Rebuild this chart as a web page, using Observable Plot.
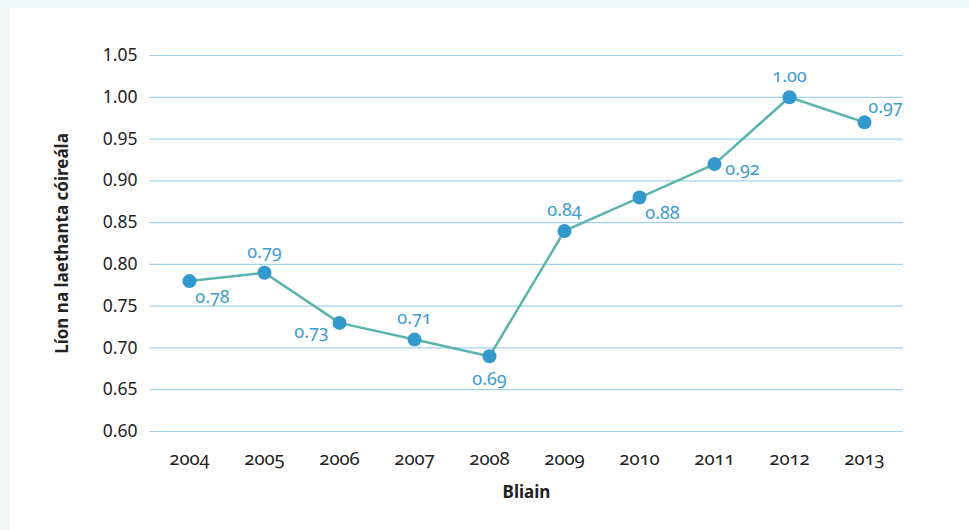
<!DOCTYPE html>
<html>
<head>
<meta charset="utf-8">
<script src="https://cdn.jsdelivr.net/npm/d3@7"></script>
<script src="https://cdn.jsdelivr.net/npm/@observablehq/plot@0.6"></script>
<style>
  html, body { margin: 0; padding: 0; }
  body { width: 969px; height: 530px; background: #eef7f5; overflow: hidden; }
  #wrap { position: absolute; left: 10px; top: 8px; width: 959px; height: 522px; background: #fff; }
  svg { font-family: "Noto Sans", sans-serif; font-variant-numeric: oldstyle-nums; }
</style>
</head>
<body>
<div id="wrap"></div>
<script>
const years = ["2004","2005","2006","2007","2008","2009","2010","2011","2012","2013"];
const values = [0.78, 0.79, 0.73, 0.71, 0.69, 0.84, 0.88, 0.92, 1.00, 0.97];
const yTicks = [0.60, 0.65, 0.70, 0.75, 0.80, 0.85, 0.90, 0.95, 1.00, 1.05];

const data = years.map((y, i) => ({year: y, value: values[i]}));
const labelColor = "#3b9bd2";

const above = new Set(["2005","2007","2009","2012"]);
const below = new Set(["2008"]);
const belowRight = new Set(["2004","2010"]);
const right = new Set(["2011"]);
const belowLeft = new Set(["2006"]);
const aboveRight = new Set(["2013"]);

const txt = (set, dx, dy) => Plot.text(data.filter(d => set.has(d.year)), {
  x: "year", y: "value", text: d => d.value.toFixed(2),
  dx, dy, fill: labelColor, fontSize: 18
});

const chart = Plot.plot({
  width: 959,
  height: 522,
  marginLeft: 139,
  marginRight: 66,
  marginTop: 47,
  marginBottom: 99,
  style: {fontFamily: "Noto Sans, sans-serif", fontSize: "17px", color: "#222", background: "transparent"},
  x: {type: "point", domain: years, padding: 0.5, label: null},
  y: {domain: [0.60, 1.05], ticks: yTicks, label: null, tickFormat: d => d.toFixed(2)},
  marks: [
    Plot.ruleY(yTicks, {stroke: "#a3d2ea", strokeWidth: 1.2}),
    Plot.axisY(yTicks, {tickSize: 0, tickPadding: 12, fontSize: 17.5, fill: "#222", tickFormat: d => d.toFixed(2), label: null}),
    Plot.axisX(years, {tickSize: 0, tickPadding: 20, fontSize: 18.5, fill: "#222", label: null}),
    Plot.line(data, {x: "year", y: "value", stroke: "#5bb3ad", strokeWidth: 2.5}),
    Plot.dot(data, {x: "year", y: "value", r: 7, fill: "#3399cc", stroke: "none"}),
    txt(above, 0, -21),
    txt(below, 0, 23),
    txt(belowRight, 23, 16),
    txt(right, 28, 5),
    txt(belowLeft, -28, 9),
    txt(aboveRight, 21, -15),
    Plot.text(["Líon na laethanta cóireála"], {frameAnchor: "left", textAnchor: "middle", dx: -87, rotate: -90, fontWeight: "bold", fontSize: 17, fill: "#222"}),
    Plot.text(["Bliain"], {frameAnchor: "bottom", dy: 66, fontWeight: "bold", fontSize: 17, fill: "#222"})
  ]
});
document.getElementById("wrap").appendChild(chart);
</script>
</body>
</html>
